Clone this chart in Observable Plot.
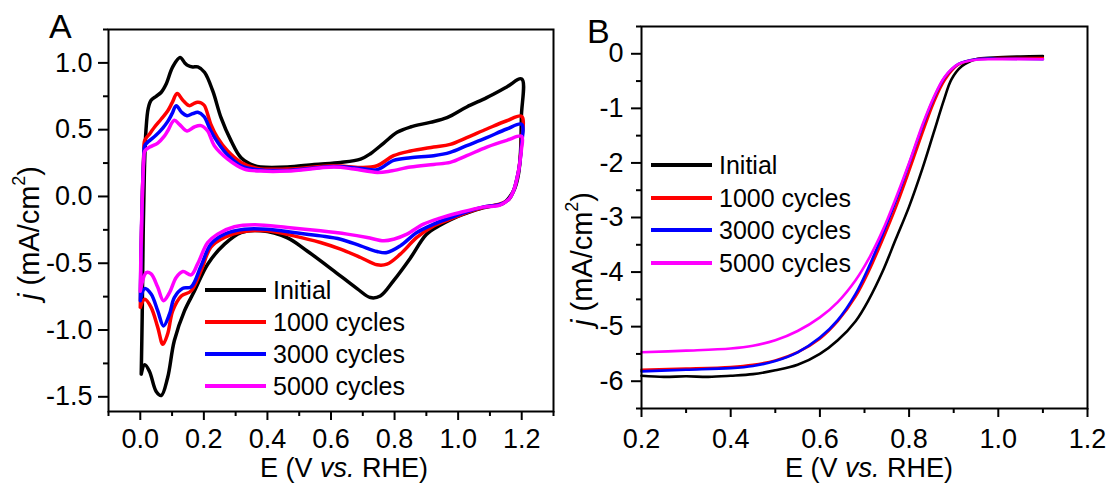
<!DOCTYPE html>
<html>
<head>
<meta charset="utf-8">
<script src="https://cdn.jsdelivr.net/npm/d3@7"></script>
<script src="https://cdn.jsdelivr.net/npm/@observablehq/plot@0.6"></script>
<style>
  html, body { margin: 0; padding: 0; background: #fff; }
  #wrap { position: relative; width: 1112px; height: 487px; overflow: hidden; font-family: "Liberation Sans", Arial, sans-serif; color: #000; }
  .panel { position: absolute; top: 0; }
  .lab { position: absolute; white-space: nowrap; line-height: 1; }
  .ylab { position: absolute; white-space: nowrap; line-height: 1; transform: translate(-50%, -50%) rotate(-90deg); }
  .ylab sup { font-size: 0.62em; vertical-align: 0.75em; line-height: 0; }
  .leg { position: absolute; font-size: 25px; }
  .row { display: flex; align-items: center; height: 30px; line-height: 30px; white-space: nowrap; }
  .sw { display: inline-block; width: 61px; margin-right: 7px; }
</style>
</head>
<body>
<div id="wrap"></div>
<script>
// ---------- series ----------
const seriesNames = ["Initial", "1000 cycles", "3000 cycles", "5000 cycles"];
const seriesColors = ["#000000", "#ff0000", "#0000ff", "#ff00ff"];

// ---------- Panel A: cyclic voltammograms (E in V, j in mA/cm2), closed loops ----------
const cvInitial = [
  [0.003,-1.33],[0.006,-0.9],[0.009,-0.3],[0.013,0.2],[0.018,0.5],[0.025,0.66],[0.034,0.72],[0.05,0.75],[0.066,0.78],[0.081,0.84],[0.102,0.97],[0.125,1.04],[0.14,1.0],[0.15,0.98],[0.165,0.97],[0.181,0.97],[0.202,0.93],[0.228,0.79],[0.254,0.59],[0.285,0.42],[0.317,0.29],[0.359,0.23],[0.379,0.22],[0.463,0.22],[0.547,0.24],[0.63,0.255],[0.693,0.28],[0.724,0.32],[0.766,0.40],[0.808,0.48],[0.85,0.52],[0.912,0.555],[0.965,0.59],[1.027,0.67],[1.09,0.74],[1.153,0.82],[1.2,0.88],
  [1.199,0.6],[1.196,0.32],[1.19,0.17],[1.178,0.06],[1.16,-0.01],[1.14,-0.055],[1.11,-0.07],[1.078,-0.085],[1.027,-0.125],[0.975,-0.175],[0.94,-0.22],[0.9,-0.285],[0.85,-0.46],[0.797,-0.63],[0.755,-0.745],[0.724,-0.757],[0.682,-0.69],[0.609,-0.557],[0.526,-0.41],[0.463,-0.31],[0.379,-0.257],[0.317,-0.27],[0.265,-0.357],[0.212,-0.507],[0.17,-0.71],[0.139,-0.857],[0.107,-1.08],[0.086,-1.357],[0.066,-1.49],[0.05,-1.46],[0.029,-1.31],[0.014,-1.26],[0.003,-1.33]
];
const cv1000 = [
  [0.0,-0.83],[0.003,-0.4],[0.007,0.05],[0.011,0.32],[0.014,0.42],[0.03,0.47],[0.045,0.52],[0.066,0.58],[0.086,0.64],[0.1,0.7],[0.116,0.77],[0.134,0.72],[0.154,0.68],[0.168,0.695],[0.18,0.705],[0.192,0.70],[0.202,0.68],[0.222,0.54],[0.243,0.44],[0.275,0.34],[0.317,0.255],[0.369,0.21],[0.463,0.205],[0.609,0.23],[0.693,0.217],[0.745,0.23],[0.797,0.305],[0.85,0.34],[0.923,0.37],[0.975,0.39],[1.027,0.44],[1.09,0.505],[1.153,0.567],[1.2,0.6],
  [1.199,0.4],[1.195,0.28],[1.19,0.19],[1.174,0.04],[1.16,-0.02],[1.132,-0.055],[1.078,-0.083],[1.027,-0.12],[0.975,-0.17],[0.923,-0.22],[0.87,-0.307],[0.818,-0.432],[0.776,-0.507],[0.745,-0.512],[0.693,-0.457],[0.63,-0.395],[0.567,-0.345],[0.483,-0.295],[0.4,-0.257],[0.327,-0.262],[0.265,-0.307],[0.222,-0.38],[0.191,-0.557],[0.16,-0.707],[0.129,-0.745],[0.102,-0.857],[0.086,-1.03],[0.071,-1.107],[0.055,-0.98],[0.034,-0.83],[0.014,-0.77],[0.0,-0.83]
];
const cv3000 = [
  [0.0,-0.78],[0.003,-0.35],[0.007,0.05],[0.011,0.3],[0.014,0.38],[0.03,0.42],[0.05,0.46],[0.07,0.51],[0.086,0.56],[0.1,0.62],[0.113,0.68],[0.13,0.63],[0.147,0.605],[0.165,0.62],[0.181,0.63],[0.2,0.6],[0.222,0.49],[0.245,0.4],[0.275,0.31],[0.317,0.23],[0.37,0.2],[0.463,0.195],[0.609,0.225],[0.693,0.21],[0.745,0.2],[0.797,0.27],[0.85,0.29],[0.923,0.305],[0.975,0.33],[1.027,0.38],[1.09,0.44],[1.153,0.505],[1.2,0.54],
  [1.199,0.38],[1.195,0.27],[1.19,0.19],[1.174,0.04],[1.16,-0.02],[1.132,-0.06],[1.078,-0.08],[1.027,-0.115],[0.975,-0.16],[0.923,-0.207],[0.87,-0.27],[0.818,-0.37],[0.776,-0.42],[0.745,-0.412],[0.693,-0.37],[0.63,-0.32],[0.567,-0.295],[0.483,-0.27],[0.4,-0.245],[0.327,-0.245],[0.265,-0.282],[0.222,-0.357],[0.191,-0.52],[0.16,-0.677],[0.134,-0.687],[0.107,-0.757],[0.092,-0.88],[0.073,-0.97],[0.055,-0.857],[0.034,-0.73],[0.014,-0.69],[0.0,-0.78]
];
const cv5000 = [
  [0.0,-0.71],[0.003,-0.3],[0.007,0.05],[0.011,0.27],[0.014,0.34],[0.03,0.37],[0.055,0.40],[0.075,0.45],[0.086,0.49],[0.107,0.57],[0.123,0.54],[0.147,0.49],[0.17,0.52],[0.191,0.53],[0.212,0.49],[0.233,0.38],[0.275,0.28],[0.327,0.205],[0.379,0.19],[0.463,0.19],[0.609,0.22],[0.672,0.205],[0.745,0.18],[0.787,0.19],[0.85,0.22],[0.923,0.24],[0.975,0.255],[1.027,0.305],[1.09,0.37],[1.153,0.42],[1.2,0.45],
  [1.199,0.35],[1.195,0.27],[1.19,0.19],[1.174,0.04],[1.16,-0.02],[1.132,-0.065],[1.078,-0.08],[1.006,-0.12],[0.943,-0.162],[0.891,-0.207],[0.839,-0.282],[0.797,-0.32],[0.766,-0.332],[0.714,-0.307],[0.651,-0.282],[0.567,-0.257],[0.463,-0.232],[0.359,-0.212],[0.296,-0.227],[0.243,-0.282],[0.212,-0.345],[0.18,-0.507],[0.16,-0.587],[0.134,-0.562],[0.113,-0.607],[0.092,-0.72],[0.073,-0.78],[0.055,-0.68],[0.034,-0.58],[0.019,-0.57],[0.0,-0.71]
];

// ---------- Panel B: polarization curves ----------
const lsvInitial = [
  [0.2,-5.9],[0.25,-5.92],[0.3,-5.91],[0.35,-5.92],[0.4,-5.9],[0.45,-5.87],[0.5,-5.8],[0.55,-5.7],[0.6,-5.5],[0.64,-5.25],[0.68,-4.9],[0.71,-4.5],[0.74,-4.0],[0.77,-3.4],[0.8,-2.8],[0.83,-2.1],[0.855,-1.45],[0.878,-0.85],[0.895,-0.47],[0.918,-0.23],[0.95,-0.1],[0.99,-0.07],[1.05,-0.05],[1.1,-0.04]
];
const lsv1000 = [
  [0.2,-5.79],[0.3,-5.77],[0.4,-5.74],[0.45,-5.7],[0.5,-5.62],[0.55,-5.47],[0.6,-5.22],[0.64,-4.9],[0.68,-4.45],[0.71,-3.98],[0.74,-3.42],[0.77,-2.82],[0.8,-2.15],[0.83,-1.45],[0.855,-0.9],[0.88,-0.48],[0.91,-0.2],[0.95,-0.1],[1.0,-0.08],[1.1,-0.08]
];
const lsv3000 = [
  [0.2,-5.82],[0.3,-5.79],[0.4,-5.76],[0.45,-5.72],[0.5,-5.63],[0.55,-5.47],[0.6,-5.2],[0.64,-4.88],[0.68,-4.4],[0.71,-3.9],[0.74,-3.32],[0.77,-2.7],[0.8,-2.02],[0.83,-1.33],[0.855,-0.82],[0.88,-0.43],[0.91,-0.19],[0.95,-0.1],[1.0,-0.09],[1.1,-0.1]
];
const lsv5000 = [
  [0.2,-5.47],[0.3,-5.44],[0.4,-5.4],[0.45,-5.35],[0.5,-5.25],[0.55,-5.08],[0.6,-4.83],[0.64,-4.55],[0.68,-4.15],[0.71,-3.75],[0.74,-3.25],[0.77,-2.65],[0.8,-2.0],[0.83,-1.3],[0.855,-0.8],[0.88,-0.42],[0.91,-0.19],[0.95,-0.11],[1.0,-0.1],[1.1,-0.1]
];

// ---------- ticks ----------
const cvXTicks = [0, 0.2, 0.4, 0.6, 0.8, 1.0, 1.2];
const cvXMinor = [-0.1, 0.1, 0.3, 0.5, 0.7, 0.9, 1.1, 1.3];
const cvYTicks = [-1.5, -1.0, -0.5, 0, 0.5, 1.0];
const cvYMinor = [-1.25, -0.75, -0.25, 0.25, 0.75, 1.25];
const lsvXTicks = [0.2, 0.4, 0.6, 0.8, 1.0, 1.2];
const lsvXMinor = [0.3, 0.5, 0.7, 0.9, 1.1];
const lsvYTicks = [-6, -5, -4, -3, -2, -1, 0];
const lsvYMinor = [-6.5, -5.5, -4.5, -3.5, -2.5, -1.5, -0.5, 0.5];

// ---------- build tables ----------
function toRows(list) {
  const rows = [];
  list.forEach((arr, k) => arr.forEach(([E, j]) => rows.push({series: seriesNames[k], E, j})));
  return rows;
}
const cvRows = toRows([cvInitial, cv1000, cv3000, cv5000]);
const lsvRows = toRows([lsvInitial, lsv1000, lsv3000, lsv5000]);

const FONT = '"Liberation Sans", Arial, sans-serif';
const fmt1 = d => (Math.abs(d) < 1e-9 ? 0 : d).toFixed(1);
const fmt0 = d => String(d);

const wrap = document.getElementById("wrap");

function panel(opts) {
  const p = Plot.plot({
    width: opts.width, height: 487,
    marginLeft: opts.ml, marginRight: opts.mr, marginTop: opts.mt, marginBottom: opts.mb,
    x: {domain: opts.xdom},
    y: {domain: opts.ydom},
    color: {domain: seriesNames, range: seriesColors},
    style: {fontFamily: FONT, fontSize: "27px", color: "#000", background: "transparent", overflow: "visible"},
    marks: [
      Plot.axisX({ticks: opts.xt, tickFormat: fmt1, tickSize: 9, tickPadding: opts.xpad, strokeWidth: 2, label: null, fontSize: 27}),
      Plot.axisX({ticks: opts.xm, tickSize: 5, strokeWidth: 2, text: null, label: null}),
      Plot.axisY({ticks: opts.yt, tickFormat: opts.yfmt, tickSize: 10, tickPadding: opts.ypad, strokeWidth: 2, label: null, fontSize: 27}),
      Plot.axisY({ticks: opts.ym, tickSize: 5, strokeWidth: 2, text: null, label: null}),
      Plot.line(opts.rows, {x: "E", y: "j", z: "series", stroke: "series", strokeWidth: opts.sw, curve: "catmull-rom", strokeLinejoin: "round"}),
      Plot.frame({stroke: "#000", strokeWidth: 2})
    ]
  });
  p.classList.add("panel");
  p.style.left = opts.left + "px";
  wrap.appendChild(p);
}

panel({left: 0, width: 560, ml: 108, mr: 7, mt: 29, mb: 76,
  xdom: [-0.1, 1.3], ydom: [-1.61, 1.25],
  xt: cvXTicks, xm: cvXMinor, yt: cvYTicks, ym: cvYMinor, yfmt: fmt1,
  xpad: 8, ypad: 6, rows: cvRows, sw: 3.5});

panel({left: 560, width: 552, ml: 81, mr: 25, mt: 26, mb: 79,
  xdom: [0.2, 1.2], ydom: [-6.5, 0.5],
  xt: lsvXTicks, xm: lsvXMinor, yt: lsvYTicks, ym: lsvYMinor, yfmt: fmt0,
  xpad: 11, ypad: 8, rows: lsvRows, sw: 2.6});

// ---------- text overlays ----------
function addDiv(cls, html, css) {
  const d = document.createElement("div");
  d.className = cls;
  d.innerHTML = html;
  Object.assign(d.style, css);
  wrap.appendChild(d);
  return d;
}
// panel letters
addDiv("lab", "A", {left: "49px", top: "9px", fontSize: "34px"});
addDiv("lab", "B", {left: "587px", top: "14px", fontSize: "34px"});
// x labels
const xl = 'E (V <i>vs.</i> RHE)';
addDiv("lab", xl, {left: "344px", top: "455px", fontSize: "27px", transform: "translateX(-50%)"});
addDiv("lab", xl, {left: "869px", top: "455px", fontSize: "27px", transform: "translateX(-50%)"});
// y labels
const yl = '<i>j</i> (mA/cm<sup>2</sup>)';
addDiv("ylab", yl, {left: "29px", top: "233px", fontSize: "29px"});
addDiv("ylab", yl, {left: "582px", top: "259px", fontSize: "29px"});

// legends
function legend(left, top, gap) {
  const box = addDiv("leg", "", {left: left + "px", top: top + "px"});
  seriesNames.forEach((name, i) => {
    const r = document.createElement("div");
    r.className = "row";
    r.style.height = gap + "px";
    const sw = document.createElement("span");
    sw.className = "sw";
    sw.style.borderTop = "4px solid " + seriesColors[i];
    sw.style.height = "0";
    const t = document.createElement("span");
    t.textContent = name;
    r.appendChild(sw);
    r.appendChild(t);
    box.appendChild(r);
  });
}
legend(205, 290 - 16, 32);
legend(651, 165 - 16.3, 32.6);
</script>
</body>
</html>
